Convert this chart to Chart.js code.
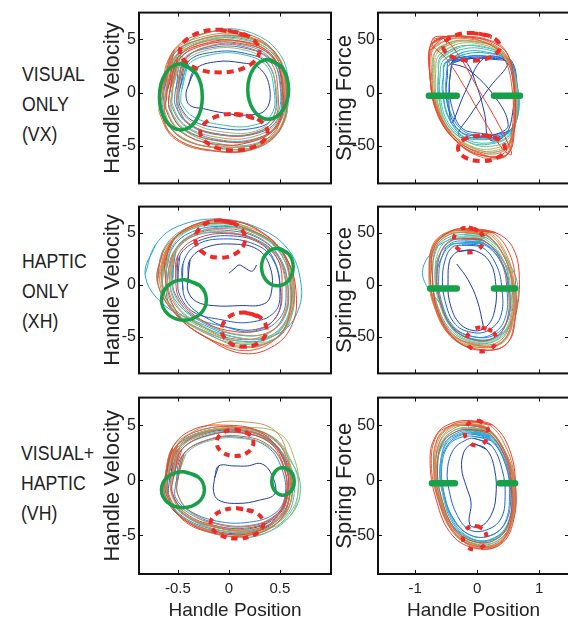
<!DOCTYPE html>
<html>
<head>
<meta charset="utf-8">
<script src="https://cdn.jsdelivr.net/npm/chart.js"></script>
<style>
  html, body { margin: 0; padding: 0; background: #fff; }
  body { width: 568px; height: 625px; position: relative; overflow: hidden; font-family: "Liberation Sans", Arial, sans-serif; }
  canvas { position: absolute; }
  .row-label { position: absolute; left: 22px; font-size: 21px; line-height: 30px; color: #222; transform: scaleX(0.84); transform-origin: left top; white-space: nowrap; }
</style>
</head>
<body>
<div class="row-label" style="top:59px">VISUAL<br>ONLY<br>(VX)</div>
<div class="row-label" style="top:246px">HAPTIC<br>ONLY<br>(XH)</div>
<div class="row-label" style="top:438px;left:21px">VISUAL+<br>HAPTIC<br>(VH)</div>

<canvas id="vxVel" width="240" height="196" style="left:98px;top:0px"></canvas>
<canvas id="vxForce" width="240" height="196" style="left:330px;top:0px"></canvas>
<canvas id="xhVel" width="240" height="192" style="left:98px;top:194px"></canvas>
<canvas id="xhForce" width="240" height="192" style="left:330px;top:194px"></canvas>
<canvas id="vhVel" width="240" height="240" style="left:98px;top:385px"></canvas>
<canvas id="vhForce" width="240" height="240" style="left:330px;top:385px"></canvas>

<script>
// trial colours, early (blue) -> late (red)
const trialColors = ['#1c3ca8', '#1f5fcc', '#2589dc', '#27aad2', '#3dbdb2', '#6ec597', '#a8b56c', '#c99455', '#db7445', '#e55a38', '#e8412c'];
const markRed = '#ee2b27';
const markGreen = '#16a048';

const velTicksX = [-0.5, 0, 0.5];
const forceTicksX = [-1, 0, 1];
const velTicksY = [-5, 0, 5];
const forceTicksY = [-50, 0, 50];

// ---- VISUAL ONLY (VX) ----
const vxVelLoops = [
    [[-0.40,0.6],[-0.33,2.2],[-0.12,2.9],[0.12,2.8],[0.30,2.3],[0.40,0.4],[0.36,-1.6],[0.18,-2.1],[-0.05,-1.9],[-0.25,-1.5],[-0.38,-1.2],[-0.42,-0.3]],
    [[-0.48,0.4],[-0.40,2.9],[-0.15,3.8],[0.15,3.7],[0.38,2.7],[0.46,0.1],[0.42,-2.5],[0.2,-3.4],[-0.1,-3.3],[-0.36,-2.6],[-0.47,-1.4],[-0.49,-0.5]],
    [[-0.52,0.3],[-0.45,3.1],[-0.18,4.2],[0.14,4.2],[0.42,3.0],[0.51,0.4],[0.47,-2.6],[0.24,-3.9],[-0.08,-3.9],[-0.4,-2.9],[-0.52,-1.3],[-0.53,-0.4]],
    [[-0.55,0.6],[-0.47,3.6],[-0.16,5.0],[0.2,4.9],[0.46,3.3],[0.55,0.5],[0.5,-2.8],[0.26,-4.3],[-0.1,-4.4],[-0.42,-3.2],[-0.56,-1.3],[-0.56,-0.3]],
    [[-0.57,0.8],[-0.48,4.0],[-0.14,5.8],[0.22,5.6],[0.5,3.6],[0.58,0.6],[0.52,-3.0],[0.28,-4.7],[-0.08,-4.8],[-0.44,-3.5],[-0.58,-1.4],[-0.58,-0.2]],
    [[-0.6,0.4],[-0.5,3.7],[-0.17,5.2],[0.2,5.1],[0.48,3.4],[0.57,0.3],[0.52,-3.2],[0.26,-4.9],[-0.14,-4.9],[-0.48,-3.5],[-0.61,-1.5],[-0.61,-0.4]],
    [[-0.62,0.2],[-0.52,3.5],[-0.2,5.0],[0.16,5.1],[0.46,3.7],[0.56,0.6],[0.52,-3.0],[0.28,-5.0],[-0.12,-5.2],[-0.5,-3.9],[-0.63,-1.7],[-0.63,-0.6]],
    [[-0.64,0.5],[-0.55,3.8],[-0.23,5.3],[0.12,5.4],[0.43,4.0],[0.55,0.8],[0.51,-3.1],[0.27,-5.1],[-0.16,-5.4],[-0.54,-4.1],[-0.66,-1.6],[-0.65,-0.5]],
    [[-0.66,0.1],[-0.57,3.4],[-0.28,5.0],[0.08,5.3],[0.4,4.2],[0.53,1.1],[0.5,-2.8],[0.3,-5.0],[-0.12,-5.5],[-0.52,-4.4],[-0.68,-1.9],[-0.67,-0.8]],
    [[-0.63,0.9],[-0.53,4.1],[-0.22,5.6],[0.14,5.6],[0.44,3.9],[0.56,0.7],[0.51,-3.3],[0.24,-5.3],[-0.18,-5.4],[-0.54,-4.1],[-0.67,-1.6],[-0.65,-0.2]],
    [[-0.6,0.3],[-0.5,3.3],[-0.2,4.7],[0.12,4.8],[0.42,3.5],[0.53,0.3],[0.48,-3.0],[0.22,-4.6],[-0.15,-4.8],[-0.48,-3.6],[-0.62,-1.5],[-0.61,-0.5]],
    [[-0.5,0.0],[-0.44,3.0],[-0.18,4.4],[0.12,4.5],[0.4,3.3],[0.5,0.8],[0.47,-2.2],[0.3,-3.6],[0.0,-4.0],[-0.32,-3.4],[-0.48,-2.0],[-0.51,-1.0]],
    [[-0.62,-0.3],[-0.55,3.0],[-0.3,4.6],[0.05,4.9],[0.38,3.9],[0.52,1.4],[0.52,-2.0],[0.36,-4.4],[0.0,-5.1],[-0.42,-4.5],[-0.62,-2.5],[-0.63,-1.4]],
    [[-0.5,0.5],[-0.42,3.2],[-0.15,4.4],[0.15,4.3],[0.4,3.0],[0.48,0.2],[0.44,-2.6],[0.22,-3.9],[-0.12,-3.9],[-0.4,-2.8],[-0.5,-1.2],[-0.51,-0.3]],
    [[-0.56,-0.2],[-0.5,3.2],[-0.25,4.8],[0.1,5.0],[0.42,3.8],[0.54,1.0],[0.5,-2.4],[0.32,-4.3],[-0.05,-4.6],[-0.4,-3.6],[-0.55,-2.0],[-0.57,-1.0]],
    [[-0.63,0.4],[-0.54,3.6],[-0.22,5.1],[0.15,5.2],[0.45,3.7],[0.57,0.5],[0.52,-3.2],[0.28,-5.0],[-0.1,-5.2],[-0.5,-4.0],[-0.64,-1.7],[-0.64,-0.5]],
    [[-0.54,0.8],[-0.45,3.5],[-0.16,4.7],[0.18,4.6],[0.44,3.1],[0.52,0.4],[0.48,-2.6],[0.25,-4.1],[-0.1,-4.2],[-0.42,-3.1],[-0.55,-1.2],[-0.55,0.0]],
    [[-0.46,0.3],[-0.4,2.6],[-0.15,3.6],[0.12,3.6],[0.36,2.6],[0.44,0.4],[0.42,-2.0],[0.22,-3.1],[-0.08,-3.0],[-0.34,-2.3],[-0.46,-1.1],[-0.47,-0.3]],
    [[-0.58,0.0],[-0.5,3.0],[-0.22,4.5],[0.12,4.6],[0.42,3.4],[0.52,0.6],[0.48,-2.8],[0.25,-4.4],[-0.1,-4.5],[-0.45,-3.4],[-0.58,-1.6],[-0.59,-0.6]],
    [[-0.5,0.0],[-0.44,2.8],[-0.2,4.0],[0.1,4.1],[0.36,3.0],[0.46,0.6],[0.44,-2.2],[0.26,-3.6],[-0.04,-3.7],[-0.34,-2.9],[-0.48,-1.5],[-0.5,-0.6]]
];
const vxVelColorIdx = [0, 1, 2, 3, 4, 5, 6, 7, 8, 9, 10, 3, 8, 9, 5, 2, 7, 4, 10, 6];
const vxVelRed = [
    [[-0.09,5.9],[0.186,5.31],[0.30,3.9],[0.186,2.49],[-0.09,1.9],[-0.366,2.49],[-0.48,3.9],[-0.366,5.31]],
    [[0.05,-2.0],[0.283,-2.5],[0.38,-3.7],[0.283,-4.9],[0.05,-5.4],[-0.183,-4.9],[-0.28,-3.7],[-0.183,-2.5]]
];
const vxVelGreen = [
    [[-0.47,2.7],[-0.32,1.79],[-0.26,-0.4],[-0.32,-2.59],[-0.47,-3.5],[-0.62,-2.59],[-0.68,-0.4],[-0.62,1.79]],
    [[0.385,3.1],[0.526,2.28],[0.585,0.3],[0.526,-1.68],[0.385,-2.5],[0.244,-1.68],[0.185,0.3],[0.244,2.28]]
];

const vxForceLoops = [
    [[-0.72,50],[-0.45,53],[-0.1,52],[0.25,47],[0.5,35],[0.6,5],[0.6,-35],[0.5,-57],[0.2,-60],[-0.2,-52],[-0.6,-25],[-0.76,15]],
    [[-0.75,45],[-0.55,52],[-0.2,53],[0.15,50],[0.45,40],[0.58,10],[0.58,-40],[0.45,-60],[0.1,-58],[-0.3,-45],[-0.65,-15],[-0.77,20]],
    [[-0.7,42],[-0.45,50],[-0.1,50],[0.25,44],[0.52,28],[0.62,-5],[0.56,-42],[0.38,-56],[0.0,-55],[-0.38,-42],[-0.66,-12],[-0.74,20]],
    [[-0.68,38],[-0.4,48],[-0.05,48],[0.3,42],[0.55,22],[0.62,-10],[0.55,-45],[0.35,-55],[-0.05,-52],[-0.45,-36],[-0.68,-6],[-0.72,18]],
    [[-0.62,35],[-0.35,45],[0.0,46],[0.35,38],[0.58,18],[0.64,-12],[0.55,-42],[0.3,-52],[-0.1,-50],[-0.48,-32],[-0.66,-4],[-0.67,18]],
    [[-0.58,32],[-0.3,42],[0.05,44],[0.4,35],[0.6,14],[0.64,-15],[0.52,-42],[0.25,-50],[-0.12,-47],[-0.48,-30],[-0.63,-3],[-0.63,16]],
    [[-0.55,30],[-0.28,40],[0.1,41],[0.45,32],[0.62,10],[0.65,-18],[0.5,-40],[0.2,-47],[-0.15,-44],[-0.47,-28],[-0.6,-2],[-0.6,15]],
    [[-0.5,28],[-0.2,36],[0.15,37],[0.5,30],[0.64,8],[0.66,-20],[0.5,-38],[0.18,-43],[-0.18,-40],[-0.45,-25],[-0.56,0],[-0.55,14]],
    [[-0.45,26],[-0.15,34],[0.2,34],[0.52,30],[0.65,5],[0.64,-25],[0.45,-38],[0.1,-40],[-0.22,-36],[-0.42,-20],[-0.5,0],[-0.5,14]],
    [[-0.38,28],[-0.1,33],[0.25,32],[0.55,30],[0.64,0],[0.6,-30],[0.4,-38],[0.05,-38],[-0.25,-33],[-0.4,-15],[-0.45,5],[-0.43,18]],
    [[-0.42,28],[-0.1,32],[0.3,31],[0.5,28],[0.2,5],[-0.1,-20],[-0.3,-40],[0.0,-42],[0.35,-38],[0.5,-30],[0.3,-5],[-0.15,22]],
    [[-0.4,30],[-0.2,30],[0.0,5],[0.12,-20],[0.2,-44],[0.45,-40],[0.58,-15],[0.58,10],[0.45,30],[0.1,32],[-0.2,0],[-0.42,-28]],
    [[-0.7,48],[-0.55,51],[-0.3,35],[0.0,5],[0.3,-25],[0.5,-48],[0.55,-58],[0.4,-52],[0.1,-25],[-0.2,5],[-0.5,32],[-0.72,44]],
    [[-0.66,40],[-0.38,48],[0.0,48],[0.32,42],[0.56,25],[0.63,-8],[0.56,-42],[0.34,-55],[-0.05,-54],[-0.45,-38],[-0.66,-8],[-0.7,18]],
    [[-0.72,46],[-0.5,52],[-0.15,52],[0.2,47],[0.5,32],[0.6,0],[0.56,-45],[0.42,-60],[0.05,-60],[-0.35,-45],[-0.66,-18],[-0.76,18]],
    [[-0.6,33],[-0.32,43],[0.05,43],[0.42,35],[0.6,15],[0.65,-15],[0.52,-40],[0.22,-48],[-0.15,-46],[-0.5,-28],[-0.62,-2],[-0.62,16]],
    [[-0.52,28],[-0.22,38],[0.15,38],[0.5,30],[0.64,5],[0.63,-25],[0.45,-40],[0.12,-44],[-0.25,-40],[-0.48,-20],[-0.55,3],[-0.54,16]],
    [[-0.64,38],[-0.36,47],[0.02,47],[0.36,40],[0.58,20],[0.63,-12],[0.54,-44],[0.3,-54],[-0.08,-52],[-0.46,-35],[-0.65,-6],[-0.68,16]],
    [[-0.74,40],[-0.58,50],[-0.28,52],[0.08,48],[0.4,35],[0.56,5],[0.55,-40],[0.4,-58],[0.0,-57],[-0.4,-42],[-0.68,-12],[-0.76,15]],
    [[-0.45,30],[-0.15,34],[0.25,33],[0.55,28],[0.62,0],[0.6,-28],[0.42,-40],[0.05,-41],[-0.28,-36],[-0.45,-18],[-0.5,0],[-0.48,16]]
];
const vxForceColorIdx = [10, 9, 8, 7, 6, 5, 4, 3, 2, 1, 0, 0, 10, 5, 8, 4, 3, 6, 9, 1];
const vxForceRed = [
    [[-0.09,56],[0.235,52.2],[0.37,43],[0.235,33.8],[-0.09,30],[-0.415,33.8],[-0.55,43],[-0.415,52.2]],
    [[0.07,-40],[0.34,-43.5],[0.45,-52],[0.34,-60.5],[0.07,-64],[-0.2,-60.5],[-0.31,-52],[-0.2,-43.5]]
];
const vxForceGreen = [
    [[-0.78,-3],[-0.33,-3]],
    [[0.27,-3],[0.69,-3]]
];

// ---- HAPTIC ONLY (XH) ----
const xhVelLoops = [
    [[-0.4,0.5],[-0.38,2.4],[-0.22,3.6],[0.05,3.9],[0.28,3.4],[0.4,1.8],[0.42,-0.5],[0.35,-1.8],[0.1,-2.0],[-0.15,-2.0],[-0.32,-1.6],[-0.4,-0.6]],
    [[-0.5,0.3],[-0.48,2.8],[-0.3,4.2],[0.0,4.7],[0.3,4.0],[0.45,2.2],[0.5,-0.5],[0.45,-2.6],[0.2,-3.6],[-0.1,-3.3],[-0.35,-2.6],[-0.48,-1.0]],
    [[-0.55,0.6],[-0.52,3.3],[-0.32,4.9],[0.0,5.2],[0.32,4.3],[0.5,2.4],[0.56,-0.6],[0.5,-3.2],[0.25,-4.5],[-0.05,-4.0],[-0.35,-3.0],[-0.52,-1.0]],
    [[-0.82,1.0],[-0.72,3.8],[-0.5,5.6],[-0.1,6.3],[0.3,5.4],[0.58,3.4],[0.7,0.5],[0.68,-2.4],[0.5,-4.6],[0.15,-5.2],[-0.3,-3.6],[-0.65,-1.8]],
    [[-0.65,0.4],[-0.6,3.4],[-0.4,5.2],[-0.05,5.7],[0.3,4.7],[0.55,2.8],[0.62,-0.2],[0.58,-3.0],[0.38,-5.0],[0.05,-5.0],[-0.3,-3.8],[-0.58,-1.8]],
    [[-0.62,1.0],[-0.56,3.6],[-0.35,5.4],[0.0,5.8],[0.33,4.7],[0.56,2.6],[0.63,-0.5],[0.6,-3.3],[0.42,-5.3],[0.1,-5.4],[-0.25,-4.2],[-0.55,-2.0]],
    [[-0.66,0.0],[-0.62,2.8],[-0.45,5.0],[-0.12,6.0],[0.25,5.3],[0.52,3.3],[0.62,0.4],[0.6,-2.6],[0.45,-4.8],[0.15,-5.6],[-0.2,-4.6],[-0.52,-2.6]],
    [[-0.68,0.5],[-0.62,3.3],[-0.42,5.3],[-0.08,6.1],[0.28,5.0],[0.54,2.9],[0.64,-0.2],[0.6,-3.0],[0.45,-5.2],[0.12,-5.9],[-0.22,-4.6],[-0.55,-2.5]],
    [[-0.66,1.2],[-0.58,3.9],[-0.35,5.7],[0.0,6.2],[0.32,5.0],[0.56,2.6],[0.64,-0.6],[0.58,-3.4],[0.42,-5.4],[0.1,-6.0],[-0.26,-4.8],[-0.56,-2.3]],
    [[-0.7,0.2],[-0.65,3.0],[-0.48,4.9],[-0.15,5.9],[0.22,5.2],[0.5,3.4],[0.6,0.6],[0.6,-2.4],[0.5,-4.8],[0.2,-6.3],[-0.15,-5.4],[-0.5,-3.0]],
    [[-0.63,1.6],[-0.55,4.2],[-0.3,5.9],[0.05,6.1],[0.36,4.8],[0.58,2.2],[0.66,-1.0],[0.62,-3.8],[0.45,-5.8],[0.15,-6.6],[-0.2,-5.2],[-0.5,-2.8]],
    [[-0.45,-0.5],[-0.45,2.0],[-0.32,3.8],[-0.05,4.4],[0.25,3.9],[0.42,2.6],[0.5,0.0],[0.48,-2.8],[0.3,-4.2],[0.0,-4.1],[-0.25,-3.0],[-0.4,-1.8]],
    [[-0.6,0.4],[-0.55,3.0],[-0.36,4.8],[-0.05,5.4],[0.28,4.6],[0.5,2.6],[0.58,-0.4],[0.54,-3.0],[0.36,-4.8],[0.06,-5.2],[-0.26,-4.0],[-0.52,-2.0]],
    [[-0.58,0.8],[-0.52,3.4],[-0.32,5.0],[0.0,5.5],[0.32,4.6],[0.54,2.4],[0.6,-0.6],[0.56,-3.4],[0.38,-5.0],[0.05,-5.0],[-0.28,-3.8],[-0.52,-1.8]],
    [[-0.62,0.2],[-0.58,3.0],[-0.4,4.9],[-0.05,5.6],[0.3,4.8],[0.52,2.8],[0.6,0.0],[0.58,-3.0],[0.42,-5.0],[0.1,-5.4],[-0.25,-4.4],[-0.55,-2.4]],
    [[-0.52,0.5],[-0.5,2.8],[-0.32,4.4],[0.0,4.9],[0.3,4.1],[0.48,2.4],[0.52,-0.4],[0.48,-2.8],[0.3,-4.3],[0.0,-4.4],[-0.28,-3.3],[-0.48,-1.4]],
    [[-0.7,0.6],[-0.64,3.4],[-0.44,5.3],[-0.1,6.0],[0.26,5.0],[0.52,3.0],[0.62,0.2],[0.62,-2.8],[0.46,-5.2],[0.12,-5.7],[-0.24,-4.6],[-0.56,-2.4]],
    [[-0.56,0.0],[-0.54,2.6],[-0.38,4.5],[-0.08,5.1],[0.22,4.4],[0.46,2.7],[0.56,0.0],[0.55,-2.6],[0.4,-4.5],[0.12,-4.8],[-0.2,-3.8],[-0.46,-2.0]],
    [[-0.58,0.4],[-0.54,3.0],[-0.36,4.6],[-0.05,5.0],[0.28,4.3],[0.5,2.4],[0.58,-0.3],[0.55,-3.0],[0.38,-4.6],[0.08,-4.8],[-0.24,-3.7],[-0.5,-1.8]]
];
const xhVelColorIdx = [0, 1, 2, 3, 4, 5, 6, 7, 8, 9, 10, 1, 8, 5, 2, 10, 4, 7, 3];
const xhVelStart = [[0.0,1.1],[0.06,1.6],[0.1,1.9],[0.16,1.6],[0.22,1.3],[0.25,1.5],[0.27,1.9]];
const xhVelRed = [
    [[-0.085,6.2],[0.088,5.67],[0.16,4.4],[0.088,3.13],[-0.085,2.6],[-0.258,3.13],[-0.33,4.4],[-0.258,5.67]],
    [[0.15,-2.65],[0.306,-3.13],[0.37,-4.3],[0.306,-5.47],[0.15,-5.95],[-0.006,-5.47],[-0.07,-4.3],[-0.006,-3.13]]
];
const xhVelGreen = [
    [[0.475,3.5],[0.585,2.97],[0.63,1.7],[0.585,0.43],[0.475,-0.1],[0.365,0.43],[0.32,1.7],[0.365,2.97]],
    [[-0.44,0.49],[-0.284,-0.08],[-0.22,-1.45],[-0.284,-2.82],[-0.44,-3.39],[-0.596,-2.82],[-0.66,-1.45],[-0.596,-0.08]]
];

const xhForceLoops = [
    [[-0.3,32],[-0.05,33],[0.2,22],[0.3,0],[0.28,-25],[0.15,-40],[-0.05,-44],[-0.3,-36],[-0.45,-15],[-0.47,5],[-0.45,22],[-0.38,29]],
    [[-0.25,38],[0.05,37],[0.3,20],[0.4,-5],[0.38,-30],[0.2,-43],[-0.05,-46],[-0.35,-38],[-0.52,-15],[-0.56,8],[-0.5,27],[-0.4,36]],
    [[-0.2,42],[0.1,40],[0.38,22],[0.48,-5],[0.45,-32],[0.25,-47],[-0.05,-50],[-0.38,-40],[-0.58,-15],[-0.62,10],[-0.55,30],[-0.42,40]],
    [[-0.25,45],[0.1,42],[0.4,25],[0.52,-2],[0.5,-32],[0.3,-50],[0.0,-53],[-0.4,-42],[-0.6,-18],[-0.8,-3],[-0.88,14],[-0.72,32],[-0.5,42]],
    [[-0.22,48],[0.15,45],[0.5,22],[0.66,-5],[0.55,-35],[0.35,-52],[0.0,-56],[-0.4,-45],[-0.65,-18],[-0.72,10],[-0.65,35],[-0.48,45]],
    [[-0.2,50],[0.15,47],[0.45,25],[0.58,-3],[0.56,-35],[0.38,-55],[0.02,-58],[-0.4,-47],[-0.68,-18],[-0.75,10],[-0.68,35],[-0.48,47]],
    [[-0.25,51],[0.12,49],[0.43,28],[0.57,0],[0.58,-32],[0.42,-54],[0.05,-59],[-0.38,-50],[-0.66,-22],[-0.76,8],[-0.7,35],[-0.5,48]],
    [[-0.18,53],[0.2,50],[0.48,28],[0.6,-2],[0.58,-35],[0.4,-56],[0.0,-60],[-0.42,-50],[-0.7,-20],[-0.78,10],[-0.7,38],[-0.45,50]],
    [[-0.22,52],[0.15,48],[0.45,25],[0.58,-5],[0.55,-38],[0.35,-57],[-0.02,-58],[-0.44,-46],[-0.7,-15],[-0.77,12],[-0.72,38],[-0.5,50]],
    [[-0.15,54],[0.25,50],[0.52,30],[0.62,0],[0.6,-35],[0.45,-58],[0.05,-62],[-0.38,-52],[-0.68,-22],[-0.76,8],[-0.72,36],[-0.45,51]],
    [[-0.05,52],[0.3,50],[0.58,35],[0.68,5],[0.62,-30],[0.5,-55],[0.15,-63],[-0.3,-55],[-0.62,-28],[-0.72,5],[-0.7,35],[-0.4,52]],
    [[-0.25,40],[0.1,40],[0.45,20],[0.62,-8],[0.55,-35],[0.3,-50],[-0.05,-52],[-0.42,-40],[-0.62,-12],[-0.68,12],[-0.6,30],[-0.45,38]],
    [[-0.2,50],[0.15,47],[0.44,26],[0.56,-2],[0.54,-34],[0.36,-54],[0.0,-57],[-0.4,-47],[-0.66,-18],[-0.72,10],[-0.66,36],[-0.46,48]],
    [[-0.22,46],[0.12,44],[0.42,24],[0.54,-4],[0.52,-34],[0.32,-52],[-0.02,-55],[-0.38,-44],[-0.62,-16],[-0.68,10],[-0.62,33],[-0.44,44]],
    [[-0.25,44],[0.08,43],[0.38,24],[0.5,-4],[0.48,-34],[0.3,-50],[-0.04,-53],[-0.38,-42],[-0.6,-16],[-0.65,10],[-0.58,32],[-0.44,42]],
    [[-0.22,44],[0.12,42],[0.45,20],[0.6,-6],[0.56,-34],[0.34,-50],[0.0,-54],[-0.38,-42],[-0.6,-14],[-0.66,10],[-0.6,30],[-0.42,42]],
    [[-0.18,52],[0.18,49],[0.46,28],[0.58,0],[0.56,-34],[0.4,-55],[0.02,-60],[-0.4,-50],[-0.68,-20],[-0.76,10],[-0.7,37],[-0.46,50]],
    [[-0.22,40],[0.1,39],[0.4,20],[0.52,-6],[0.5,-32],[0.28,-48],[-0.04,-50],[-0.4,-40],[-0.6,-14],[-0.65,10],[-0.56,28],[-0.42,38]]
];
const xhForceColorIdx = [0, 1, 2, 3, 4, 5, 6, 7, 8, 9, 10, 3, 8, 5, 10, 4, 7, 2];
const xhForceStart = [[-0.33,20],[-0.15,5],[0.0,-15],[0.1,-40]];
const xhForceRed = [
    [[-0.14,55],[0.03,51.5],[0.1,43],[0.03,34.5],[-0.14,31],[-0.31,34.5],[-0.38,43],[-0.31,51.5]],
    [[0.07,-41],[0.24,-44.4],[0.31,-52.5],[0.24,-60.6],[0.07,-64],[-0.1,-60.6],[-0.17,-52.5],[-0.1,-44.4]]
];
const xhForceGreen = [
    [[-0.76,-3.6],[-0.33,-3.6]],
    [[0.27,-3.6],[0.61,-3.6]]
];

// ---- VISUAL + HAPTIC (VH) ----
const vhVelLoops = [
    [[-0.14,0.2],[-0.1,1.3],[0.05,1.3],[0.18,1.3],[0.32,1.5],[0.42,0.5],[0.45,-1.2],[0.3,-1.8],[0.08,-2.1],[-0.1,-1.8],[-0.15,-1.0],[-0.14,0.2]],
    [[-0.58,0.0],[-0.5,2.8],[-0.25,4.2],[0.1,4.5],[0.4,3.6],[0.55,1.5],[0.58,-1.0],[0.48,-3.2],[0.2,-4.4],[-0.15,-4.2],[-0.45,-3.0],[-0.58,-1.5]],
    [[-0.6,0.4],[-0.52,3.0],[-0.28,4.3],[0.05,4.6],[0.38,3.8],[0.56,1.8],[0.6,-0.8],[0.5,-3.3],[0.22,-4.6],[-0.12,-4.5],[-0.45,-3.3],[-0.6,-1.4]],
    [[-0.55,0.2],[-0.48,2.6],[-0.22,4.0],[0.12,4.3],[0.42,3.3],[0.56,1.2],[0.58,-1.2],[0.46,-3.2],[0.18,-4.2],[-0.15,-3.9],[-0.42,-2.8],[-0.55,-1.3]],
    [[-0.6,-0.2],[-0.55,2.4],[-0.3,4.2],[0.05,4.7],[0.4,3.9],[0.6,1.8],[0.7,-0.5],[0.62,-3.0],[0.35,-4.8],[0.0,-5.1],[-0.38,-3.9],[-0.57,-2.0]],
    [[-0.62,0.6],[-0.55,3.0],[-0.3,4.5],[0.05,4.8],[0.42,4.0],[0.62,1.6],[0.68,-1.0],[0.56,-3.4],[0.3,-5.0],[-0.05,-5.0],[-0.4,-3.8],[-0.6,-1.6]],
    [[-0.56,0.0],[-0.48,2.8],[-0.2,4.4],[0.15,4.8],[0.5,4.2],[0.64,2.0],[0.68,-0.6],[0.6,-3.2],[0.3,-4.6],[-0.05,-4.6],[-0.38,-3.4],[-0.55,-1.6]],
    [[-0.6,0.3],[-0.5,3.2],[-0.2,5.0],[0.15,5.3],[0.45,4.5],[0.58,2.0],[0.6,-1.0],[0.5,-3.4],[0.2,-4.6],[-0.15,-4.2],[-0.45,-3.0],[-0.6,-1.2]],
    [[-0.63,0.0],[-0.56,2.6],[-0.32,4.1],[0.02,4.6],[0.36,3.8],[0.56,1.6],[0.62,-1.2],[0.5,-3.6],[0.22,-4.9],[-0.15,-4.6],[-0.45,-3.4],[-0.62,-1.5]],
    [[-0.58,0.8],[-0.5,3.3],[-0.25,4.6],[0.1,4.8],[0.42,3.9],[0.58,1.6],[0.6,-1.3],[0.48,-3.8],[0.2,-5.0],[-0.15,-4.8],[-0.45,-3.6],[-0.6,-1.2]],
    [[-0.62,0.2],[-0.55,3.0],[-0.35,4.6],[-0.05,5.0],[0.3,4.4],[0.52,2.2],[0.58,-0.6],[0.48,-3.2],[0.25,-4.7],[-0.1,-4.8],[-0.42,-3.7],[-0.6,-1.6]],
    [[-0.52,-0.4],[-0.46,2.2],[-0.22,3.6],[0.1,3.9],[0.38,3.0],[0.52,1.0],[0.55,-1.4],[0.45,-3.0],[0.2,-3.8],[-0.12,-3.7],[-0.4,-2.7],[-0.52,-1.6]],
    [[-0.5,0.2],[-0.42,2.4],[-0.18,3.6],[0.12,3.8],[0.4,3.0],[0.56,0.9],[0.62,-1.4],[0.5,-3.4],[0.25,-4.4],[-0.1,-4.2],[-0.38,-2.9],[-0.5,-1.3]],
    [[-0.56,0.5],[-0.48,3.0],[-0.24,4.3],[0.08,4.6],[0.4,3.7],[0.56,1.4],[0.58,-1.2],[0.48,-3.4],[0.22,-4.5],[-0.12,-4.3],[-0.42,-3.2],[-0.56,-1.2]],
    [[-0.6,0.0],[-0.52,2.6],[-0.28,4.0],[0.06,4.4],[0.4,3.5],[0.6,1.3],[0.64,-1.2],[0.54,-3.4],[0.26,-4.6],[-0.1,-4.5],[-0.42,-3.3],[-0.58,-1.6]],
    [[-0.54,0.3],[-0.46,2.8],[-0.2,4.1],[0.12,4.3],[0.4,3.4],[0.54,1.2],[0.56,-1.3],[0.45,-3.3],[0.2,-4.3],[-0.14,-4.1],[-0.42,-3.0],[-0.55,-1.2]],
    [[-0.6,0.4],[-0.52,3.0],[-0.26,4.4],[0.1,4.7],[0.44,3.8],[0.6,1.5],[0.62,-1.2],[0.52,-3.5],[0.24,-4.8],[-0.12,-4.7],[-0.44,-3.5],[-0.6,-1.4]],
    [[-0.62,0.2],[-0.54,2.8],[-0.3,4.3],[0.04,4.6],[0.38,3.8],[0.56,1.6],[0.6,-1.0],[0.5,-3.4],[0.22,-4.7],[-0.14,-4.6],[-0.46,-3.4],[-0.62,-1.5]],
    [[-0.5,0.0],[-0.44,2.4],[-0.2,3.7],[0.12,4.0],[0.4,3.1],[0.54,1.0],[0.56,-1.5],[0.45,-3.2],[0.2,-4.1],[-0.12,-3.9],[-0.38,-2.8],[-0.5,-1.3]]
];
const vhVelColorIdx = [0, 1, 2, 3, 4, 5, 6, 7, 8, 9, 10, 2, 5, 8, 4, 10, 6, 1, 9];
const vhVelRed = [
    [[0.06,4.6],[0.187,4.25],[0.24,3.4],[0.187,2.55],[0.06,2.2],[-0.067,2.55],[-0.12,3.4],[-0.067,4.25]],
    [[0.08,-2.53],[0.264,-2.93],[0.34,-3.9],[0.264,-4.87],[0.08,-5.27],[-0.104,-4.87],[-0.18,-3.9],[-0.104,-2.93]]
];
const vhVelGreen = [
    [[-0.45,0.78],[-0.30,0.30],[-0.24,-0.85],[-0.30,-2.0],[-0.45,-2.48],[-0.6,-2.0],[-0.66,-0.85],[-0.6,0.30]],
    [[0.53,1.16],[0.608,0.79],[0.64,-0.1],[0.608,-0.99],[0.53,-1.36],[0.452,-0.99],[0.42,-0.1],[0.452,0.79]]
];

const vhForceLoops = [
    [[-0.05,33],[0.15,28],[0.28,10],[0.3,-15],[0.22,-32],[0.05,-42],[-0.12,-40],[-0.1,-20],[-0.18,-5],[-0.25,10],[-0.22,25],[-0.12,32]],
    [[-0.05,38],[0.22,32],[0.4,10],[0.45,-15],[0.38,-35],[0.15,-45],[-0.12,-45],[-0.32,-32],[-0.45,-10],[-0.48,10],[-0.38,28],[-0.2,36]],
    [[-0.1,42],[0.2,38],[0.45,15],[0.52,-12],[0.45,-38],[0.22,-50],[-0.1,-50],[-0.38,-35],[-0.55,-10],[-0.6,12],[-0.48,32],[-0.3,40]],
    [[-0.08,45],[0.22,40],[0.48,18],[0.56,-10],[0.5,-38],[0.28,-52],[-0.05,-54],[-0.38,-42],[-0.6,-15],[-0.66,10],[-0.55,32],[-0.32,43]],
    [[-0.12,48],[0.2,44],[0.5,20],[0.62,-8],[0.56,-38],[0.32,-55],[0.0,-58],[-0.35,-46],[-0.6,-18],[-0.68,8],[-0.6,32],[-0.38,45]],
    [[-0.15,47],[0.18,44],[0.48,22],[0.6,-5],[0.58,-35],[0.35,-54],[0.02,-57],[-0.35,-45],[-0.6,-15],[-0.65,12],[-0.56,35],[-0.38,45]],
    [[-0.18,50],[0.15,47],[0.46,25],[0.6,-3],[0.56,-35],[0.36,-56],[0.0,-59],[-0.38,-46],[-0.62,-18],[-0.68,10],[-0.6,36],[-0.4,48]],
    [[-0.2,52],[0.15,48],[0.45,26],[0.58,0],[0.56,-34],[0.38,-56],[0.02,-61],[-0.36,-48],[-0.62,-20],[-0.7,10],[-0.64,38],[-0.42,50]],
    [[-0.15,53],[0.2,50],[0.48,28],[0.6,0],[0.58,-32],[0.4,-56],[0.05,-62],[-0.33,-50],[-0.6,-20],[-0.7,8],[-0.65,36],[-0.4,50]],
    [[-0.22,50],[0.12,48],[0.42,28],[0.55,0],[0.55,-35],[0.36,-57],[0.0,-60],[-0.38,-48],[-0.64,-15],[-0.74,15],[-0.66,40],[-0.45,49]],
    [[-0.1,54],[0.25,50],[0.52,28],[0.62,-5],[0.58,-38],[0.38,-58],[0.0,-62],[-0.4,-50],[-0.66,-18],[-0.76,20],[-0.65,42],[-0.4,52]],
    [[-0.12,44],[0.2,40],[0.5,15],[0.6,-15],[0.5,-42],[0.25,-54],[-0.08,-53],[-0.38,-38],[-0.55,-10],[-0.58,15],[-0.5,35],[-0.3,42]],
    [[-0.15,50],[0.18,46],[0.46,24],[0.58,-4],[0.55,-35],[0.36,-55],[0.02,-59],[-0.36,-46],[-0.6,-17],[-0.67,10],[-0.6,35],[-0.38,47]],
    [[-0.12,46],[0.2,42],[0.48,20],[0.58,-8],[0.54,-37],[0.32,-53],[0.0,-56],[-0.36,-44],[-0.58,-16],[-0.64,10],[-0.56,33],[-0.35,44]],
    [[-0.12,46],[0.18,43],[0.45,20],[0.55,-8],[0.52,-36],[0.32,-53],[-0.02,-56],[-0.36,-44],[-0.58,-15],[-0.64,12],[-0.56,34],[-0.34,44]],
    [[-0.1,43],[0.2,39],[0.46,16],[0.56,-12],[0.5,-40],[0.26,-53],[-0.06,-54],[-0.38,-40],[-0.56,-12],[-0.6,12],[-0.5,33],[-0.3,41]],
    [[-0.18,51],[0.15,47],[0.46,25],[0.58,-2],[0.56,-34],[0.38,-56],[0.02,-60],[-0.36,-48],[-0.62,-18],[-0.69,10],[-0.62,37],[-0.4,49]],
    [[-0.08,40],[0.22,36],[0.46,14],[0.54,-14],[0.46,-38],[0.22,-50],[-0.1,-50],[-0.38,-36],[-0.54,-10],[-0.57,14],[-0.46,32],[-0.26,39]]
];
const vhForceColorIdx = [0, 1, 2, 3, 4, 5, 6, 7, 8, 9, 10, 3, 8, 5, 10, 3, 7, 2];
const vhForceRed = [
    [[-0.01,54.5],[0.124,51.1],[0.18,43],[0.124,34.9],[-0.01,31.5],[-0.144,34.9],[-0.2,43],[-0.144,51.1]],
    [[-0.04,-41],[0.094,-44.2],[0.15,-52],[0.094,-59.8],[-0.04,-63],[-0.174,-59.8],[-0.23,-52],[-0.174,-44.2]]
];
const vhForceGreen = [
    [[-0.73,-2.7],[-0.36,-2.7]],
    [[0.36,-2.7],[0.61,-2.7]]
];

Chart.defaults.font.family = '"Liberation Sans", Arial, sans-serif';
Chart.defaults.color = '#222';

const toPts = arr => arr.map(([x, y]) => ({x, y}));
// repeat the first two points so the spline closes smoothly
const closeLoop = arr => toPts(arr.concat([arr[0], arr[1]]));

function trialSets(loops, colorIdx) {
    return loops.map((loop, i) => ({
        data: closeLoop(loop),
        borderColor: trialColors[colorIdx[i]],
        borderWidth: 1,
        order: 20 - colorIdx[i]
    }));
}

function openSet(path, color) {
    return {data: toPts(path), borderColor: color, borderWidth: 1, order: 15};
}

function ringSets(rings, color, width, dash) {
    return rings.map(r => ({data: closeLoop(r), borderColor: color, borderWidth: width, borderDash: dash, order: 0}));
}

function barSets(bars) {
    return bars.map(b => ({data: toPts(b), borderColor: markGreen, borderWidth: 6.5, borderCapStyle: 'round', tension: 0, order: 0}));
}

// box round the plot area, with short inward ticks (matlab style)
const framePlugin = {
    id: 'frame',
    afterDraw(chart) {
        const {ctx, chartArea: a, scales: {x, y}} = chart;
        ctx.save();
        ctx.strokeStyle = '#111';
        ctx.lineWidth = 1;
        ctx.beginPath();
        x.ticks.forEach(t => {
            const px = Math.round(x.getPixelForValue(t.value)) + 0.5;
            ctx.moveTo(px, a.bottom); ctx.lineTo(px, a.bottom - 4);
            ctx.moveTo(px, a.top); ctx.lineTo(px, a.top + 4);
        });
        y.ticks.forEach(t => {
            const py = Math.round(y.getPixelForValue(t.value)) + 0.5;
            ctx.moveTo(a.left, py); ctx.lineTo(a.left + 4, py);
            ctx.moveTo(a.right, py); ctx.lineTo(a.right - 4, py);
        });
        ctx.stroke();
        ctx.lineWidth = 2;
        ctx.strokeRect(a.left, a.top, a.right - a.left, a.bottom - a.top);
        ctx.restore();
    }
};

function panel(id, datasets, opt) {
    new Chart(document.getElementById(id), {
        type: 'scatter',
        data: {
            datasets: datasets.map(d => Object.assign({showLine: true, pointRadius: 0, tension: 0.4, fill: false}, d))
        },
        options: {
            responsive: false,
            animation: false,
            events: [],
            layout: {padding: {top: opt.padTop, bottom: opt.padBottom, right: opt.padRight, left: 0}},
            plugins: {legend: {display: false}, tooltip: {enabled: false}},
            scales: {
                x: {
                    type: 'linear',
                    min: opt.xMin,
                    max: opt.xMax,
                    afterBuildTicks: s => { s.ticks = opt.xTicks.map(v => ({value: v})); },
                    afterFit: s => { s.height = opt.bottom ? 51 : 0; },
                    grid: {display: false, drawTicks: false},
                    border: {display: false},
                    ticks: {display: opt.bottom, padding: 6, font: {size: 15}, callback: v => String(v)},
                    title: {display: opt.bottom, text: 'Handle Position', font: {size: 19}, padding: {top: 0, bottom: 3}}
                },
                y: {
                    type: 'linear',
                    min: opt.yMin,
                    max: opt.yMax,
                    afterBuildTicks: s => { s.ticks = opt.yTicks.map(v => ({value: v})); },
                    afterFit: s => { s.width = opt.yWidth; },
                    grid: {display: false, drawTicks: false},
                    border: {display: false},
                    ticks: {padding: 3, font: {size: 16}, callback: v => String(v)},
                    title: {display: true, text: opt.yTitle, font: {size: 22}, padding: {top: 2, bottom: 0}}
                }
            }
        },
        plugins: [framePlugin]
    });
}

const velAxes = {xMin: -0.88, xMax: 1.0, yMin: -8.5, yMax: 7.5, xTicks: velTicksX, yTicks: velTicksY,
    yWidth: 41, padRight: 7, yTitle: 'Handle Velocity'};
const forceAxes = {xMin: -1.6, xMax: 1.48, yMin: -85, yMax: 75, xTicks: forceTicksX, yTicks: forceTicksY,
    yWidth: 48, padRight: 1, yTitle: 'Spring Force'};
const rows = [
    {padTop: 7, padBottom: 3, bottom: false},
    {padTop: 3, padBottom: 3, bottom: false},
    {padTop: 3, padBottom: 0, bottom: true}
];

panel('vxVel', [
    ...ringSets(vxVelGreen, markGreen, 3.5, []),
    ...ringSets(vxVelRed, markRed, 4, [7, 5]),
    ...trialSets(vxVelLoops, vxVelColorIdx)
], Object.assign({}, velAxes, rows[0]));

panel('vxForce', [
    ...barSets(vxForceGreen),
    ...ringSets(vxForceRed, markRed, 4, [7, 5]),
    ...trialSets(vxForceLoops, vxForceColorIdx)
], Object.assign({}, forceAxes, rows[0]));

panel('xhVel', [
    ...ringSets(xhVelGreen, markGreen, 3.5, []),
    ...ringSets(xhVelRed, markRed, 4, [7, 5]),
    openSet(xhVelStart, trialColors[0]),
    ...trialSets(xhVelLoops, xhVelColorIdx)
], Object.assign({}, velAxes, rows[1]));

panel('xhForce', [
    ...barSets(xhForceGreen),
    ...ringSets(xhForceRed, markRed, 4, [5, 8]),
    openSet(xhForceStart, trialColors[0]),
    ...trialSets(xhForceLoops, xhForceColorIdx)
], Object.assign({}, forceAxes, rows[1]));

panel('vhVel', [
    ...ringSets(vhVelGreen, markGreen, 3.5, []),
    ...ringSets(vhVelRed, markRed, 4, [6, 5]),
    ...trialSets(vhVelLoops, vhVelColorIdx)
], Object.assign({}, velAxes, rows[2]));

panel('vhForce', [
    ...barSets(vhForceGreen),
    ...ringSets(vhForceRed, markRed, 4, [5, 8]),
    ...trialSets(vhForceLoops, vhForceColorIdx)
], Object.assign({}, forceAxes, rows[2]));
</script>
</body>
</html>
